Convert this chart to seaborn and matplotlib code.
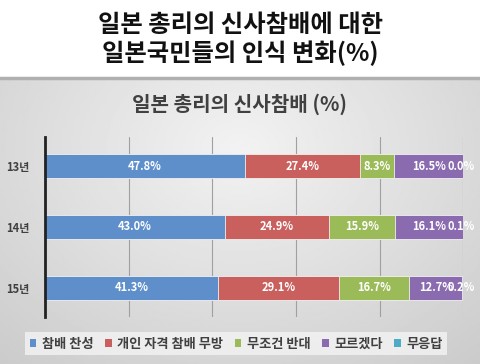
import numpy as np
import pandas as pd
import matplotlib
matplotlib.use("Agg")
import matplotlib.pyplot as plt
import seaborn as sns
from matplotlib.patches import Patch

years = ["13년", "14년", "15년"]
series = ["참배 찬성", "개인 자격 참배 무방", "무조건 반대", "모르겠다", "무응답"]
approve = [47.8, 43.0, 41.3]
personal = [27.4, 24.9, 29.1]
oppose = [8.3, 15.9, 16.7]
unknown = [16.5, 16.1, 12.7]
noanswer = [0.0, 0.1, 0.2]
colors = ["#5f8fcb", "#c9605e", "#9bbb59", "#8a6bb0", "#4bacc6"]

main_title = ["일본 총리의 신사참배에 대한", "일본국민들의 인식 변화(%)"]
chart_title = "일본 총리의 신사참배 (%)"

sns.set_theme(style="white")
plt.rcParams['font.family'] = ['Noto Sans CJK KR', 'DejaVu Sans']

values = [approve, personal, oppose, unknown, noanswer]
df = pd.DataFrame({"year": years})
for name, v in zip(series, values):
    df[name] = v
cum = df[series].cumsum(axis=1)
starts = cum - df[series]

fig = plt.figure(figsize=(4.8, 3.64), dpi=100)
fig.patch.set_facecolor("white")

# gray gradient panel
bg = fig.add_axes([0, 0, 1, 0.786])
yy, xx = np.mgrid[0:1:200j, 0:1:300j]
r = np.sqrt(((xx - 0.5) / 0.7) ** 2 + ((yy - 0.75) / 0.9) ** 2)
img = 0.95 - 0.14 * np.clip(r, 0, 1.2)
bg.imshow(img, cmap="gray", vmin=0, vmax=1, aspect="auto", extent=[0, 1, 0, 1], origin="lower")
bg.set_axis_off()
fig.add_artist(plt.Line2D([0, 1], [0.786, 0.786], color="#b0b0b0", lw=2.5))

for k, line in enumerate(main_title):
    fig.text(0.5, 1 - (25 + 28 * k) / 364, line, ha="center", va="center", fontsize=17.5,
             fontweight="heavy", color="#111111")
fig.text(0.5, 1 - 104 / 364, chart_title, ha="center", va="center", fontsize=14.5,
         color="#404040", fontweight="bold")

ax = fig.add_axes([0.094, 0.129, 0.871, 0.495])
ax.patch.set_alpha(0)
for i in range(len(series) - 1, -1, -1):
    sns.barplot(x=cum[series[i]], y=df["year"], orient="h", color=colors[i],
                width=0.4, ax=ax, edgecolor="#f0f0f0", linewidth=0.6, saturation=1)

for i, name in enumerate(series):
    for j in range(len(years)):
        v = df[name][j]
        xc = starts[name][j] + v / 2
        if name == "무응답":
            xc = starts[name][j] - 0.4
        ax.text(xc, j, f"{v:.1f}%", ha="center", va="center", color="white",
                fontsize=8, fontweight="bold")

ax.set_xlim(0, 100)
ax.set_ylim(2.48, -0.48)
ax.set_xticks([0, 20, 40, 60, 80, 100])
ax.set_xticklabels([])
ax.xaxis.grid(True, color="#a0a0a0", lw=0.8)
ax.set_axisbelow(True)
ax.set_xlabel("")
ax.set_ylabel("")
ax.tick_params(axis="both", length=0, pad=11)
for lab in ax.get_yticklabels():
    lab.set_fontsize(8)
    lab.set_color("#404040")
    lab.set_fontweight("bold")
for s in ["top", "right", "bottom"]:
    ax.spines[s].set_visible(False)
ax.spines["left"].set_color("#222222")
ax.spines["left"].set_linewidth(2)

handles = [Patch(facecolor=c, edgecolor="none") for c in colors]
leg = fig.legend(handles, series, loc="center", bbox_to_anchor=(0.492, 0.056), ncol=5,
                 frameon=True, fontsize=9.5, handlelength=0.5, handleheight=0.5,
                 handletextpad=0.4, columnspacing=0.9, borderpad=0.35, fancybox=False)
leg.get_frame().set_facecolor("#f4f4f4")
leg.get_frame().set_edgecolor("none")
for t in leg.get_texts():
    t.set_color("#404040")
    t.set_fontweight("bold")

fig.savefig("out.png", dpi=100)
